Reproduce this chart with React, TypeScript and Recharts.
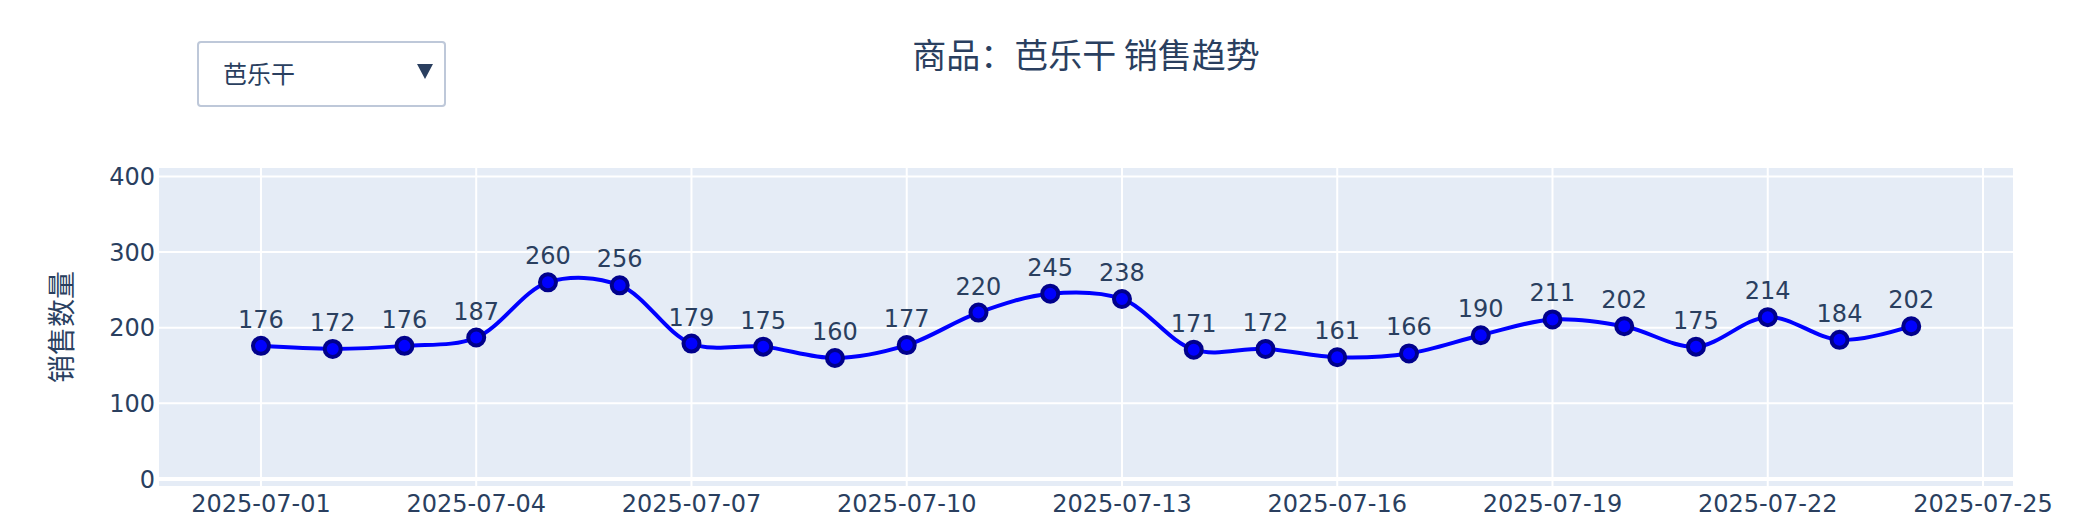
import React from 'react';
import {
  LineChart,
  Line,
  XAxis,
  YAxis,
  CartesianGrid,
  ReferenceLine,
  LabelList,
} from 'recharts';

const dates = [
  '2025-07-01', '2025-07-02', '2025-07-03', '2025-07-04', '2025-07-05', '2025-07-06',
  '2025-07-07', '2025-07-08', '2025-07-09', '2025-07-10', '2025-07-11', '2025-07-12',
  '2025-07-13', '2025-07-14', '2025-07-15', '2025-07-16', '2025-07-17', '2025-07-18',
  '2025-07-19', '2025-07-20', '2025-07-21', '2025-07-22', '2025-07-23', '2025-07-24',
];
const sales = [
  176, 172, 176, 187, 260, 256, 179, 175, 160, 177, 220, 245,
  238, 171, 172, 161, 166, 190, 211, 202, 175, 214, 184, 202,
];
const xTickLabels = [
  '2025-07-01', '2025-07-04', '2025-07-07', '2025-07-10', '2025-07-13',
  '2025-07-16', '2025-07-19', '2025-07-22', '2025-07-25',
];
const yTicks = [0, 100, 200, 300, 400];

const TITLE = '商品：芭乐干 销售趋势';
const PRODUCT = '芭乐干';
const Y_TITLE = '销售数量';

const FONT = '"DejaVu Sans", "Noto Sans CJK SC", sans-serif';
const CJK_FONT = '"Noto Sans CJK SC", "DejaVu Sans", sans-serif';
const INK = '#2a3f5f';

const DAY = 86400000;
const base = Date.parse(dates[0] + 'T00:00:00Z');
const toDay = (s: string) => (Date.parse(s + 'T00:00:00Z') - base) / DAY;
const fromDay = (d: number) => new Date(base + Math.round(d) * DAY).toISOString().slice(0, 10);

const data = dates.map((d, i) => ({ day: toDay(d), value: sales[i] }));
const xTicks = xTickLabels.map(toDay);

// plotly-style spline (catmull-rom tangents, smoothing = 1)
function makeTangent(p0: number[], p1: number[], p2: number[], s: number) {
  const d1x = p0[0] - p1[0], d1y = p0[1] - p1[1];
  const d2x = p2[0] - p1[0], d2y = p2[1] - p1[1];
  const d1a = Math.pow(d1x * d1x + d1y * d1y, 0.25);
  const d2a = Math.pow(d2x * d2x + d2y * d2y, 0.25);
  const numx = (d2a * d2a * d1x - d1a * d1a * d2x) * s;
  const numy = (d2a * d2a * d1y - d1a * d1a * d2y) * s;
  const den1 = 3 * d2a * (d1a + d2a);
  const den2 = 3 * d1a * (d1a + d2a);
  return [
    [p1[0] + (den1 && numx / den1), p1[1] + (den1 && numy / den1)],
    [p1[0] - (den2 && numx / den2), p1[1] - (den2 && numy / den2)],
  ];
}

function plotlySpline(context: any) {
  let pts: number[][] = [];
  return {
    areaStart() {},
    areaEnd() {},
    lineStart() {
      pts = [];
    },
    point(x: number, y: number) {
      pts.push([+x, +y]);
    },
    lineEnd() {
      const n = pts.length;
      if (!n) return;
      context.moveTo(pts[0][0], pts[0][1]);
      if (n < 3) {
        for (let i = 1; i < n; i++) context.lineTo(pts[i][0], pts[i][1]);
        return;
      }
      const t: number[][][] = [];
      for (let i = 1; i < n - 1; i++) t.push(makeTangent(pts[i - 1], pts[i], pts[i + 1], 1));
      context.quadraticCurveTo(t[0][0][0], t[0][0][1], pts[1][0], pts[1][1]);
      for (let i = 2; i < n - 1; i++) {
        context.bezierCurveTo(
          t[i - 2][1][0], t[i - 2][1][1],
          t[i - 1][0][0], t[i - 1][0][1],
          pts[i][0], pts[i][1]
        );
      }
      context.quadraticCurveTo(t[n - 3][1][0], t[n - 3][1][1], pts[n - 1][0], pts[n - 1][1]);
    },
  };
}

function YTitle(props: any) {
  const vb = props.viewBox || {};
  const cx = vb.x + 60;
  const cy = vb.y + vb.height / 2;
  return (
    <text
      x={cx}
      y={cy}
      transform={`rotate(-90, ${cx}, ${cy})`}
      textAnchor="middle"
      dominantBaseline="central"
      fill={INK}
      fontSize={28}
      fontFamily={CJK_FONT}
    >
      {Y_TITLE}
    </text>
  );
}

export default function App() {
  return (
    <div style={{ position: 'absolute', left: 0, top: 0, width: 2092, height: 526, background: '#fff', fontFamily: CJK_FONT }}>
      <div
        style={{
          position: 'absolute',
          left: 158,
          width: 1856,
          top: 37,
          textAlign: 'center',
          fontSize: 34,
          lineHeight: '34px',
          color: INK,
        }}
      >
        {TITLE}
      </div>
      <div
        style={{
          position: 'absolute',
          left: 197,
          top: 41,
          width: 249,
          height: 66,
          boxSizing: 'border-box',
          border: '2px solid #BEC8D9',
          borderRadius: 4,
          background: '#fff',
          zIndex: 2,
        }}
      >
        <span
          style={{
            position: 'absolute',
            left: 24,
            top: 16,
            fontSize: 24,
            lineHeight: '28px',
            color: INK,
          }}
        >
          {PRODUCT}
        </span>
        <svg style={{ position: 'absolute', left: 217, top: 19 }} width={18} height={18}>
          <polygon points="1,2 17,2 9,17" fill={INK} />
        </svg>
      </div>
      <LineChart
        width={2092}
        height={526}
        data={data}
        margin={{ top: 167, right: 78, bottom: 0, left: 0 }}
      >
        <CartesianGrid fill="#E5ECF6" stroke="#fff" strokeWidth={2} />
        <XAxis
          dataKey="day"
          type="number"
          domain={[-1.435, 24.432]}
          ticks={xTicks}
          tickFormatter={(v: number) => fromDay(v)}
          allowDataOverflow
          axisLine={false}
          tickLine={false}
          tickSize={0}
          tickMargin={8}
          height={39}
          interval={0}
          tick={{ fontSize: 24, fill: INK, fontFamily: FONT }}
        />
        <YAxis
          type="number"
          domain={[-10.6, 412.5]}
          ticks={yTicks}
          allowDataOverflow
          axisLine={false}
          tickLine={false}
          tickSize={0}
          tickMargin={3}
          width={158}
          interval={0}
          tick={{ fontSize: 24, fill: INK, fontFamily: FONT }}
          label={<YTitle />}
        />
        <ReferenceLine y={0} stroke="#fff" strokeWidth={4} />
        <Line
          dataKey="value"
          type={plotlySpline as any}
          stroke="#0000ff"
          strokeWidth={4}
          dot={{ r: 8, fill: '#0000ff', stroke: '#00008B', strokeWidth: 4 }}
          activeDot={false}
          isAnimationActive={false}
        >
          <LabelList
            dataKey="value"
            position="top"
            offset={18}
            fill={INK}
            fontSize={24}
            fontFamily={FONT}
          />
        </Line>
      </LineChart>
    </div>
  );
}
